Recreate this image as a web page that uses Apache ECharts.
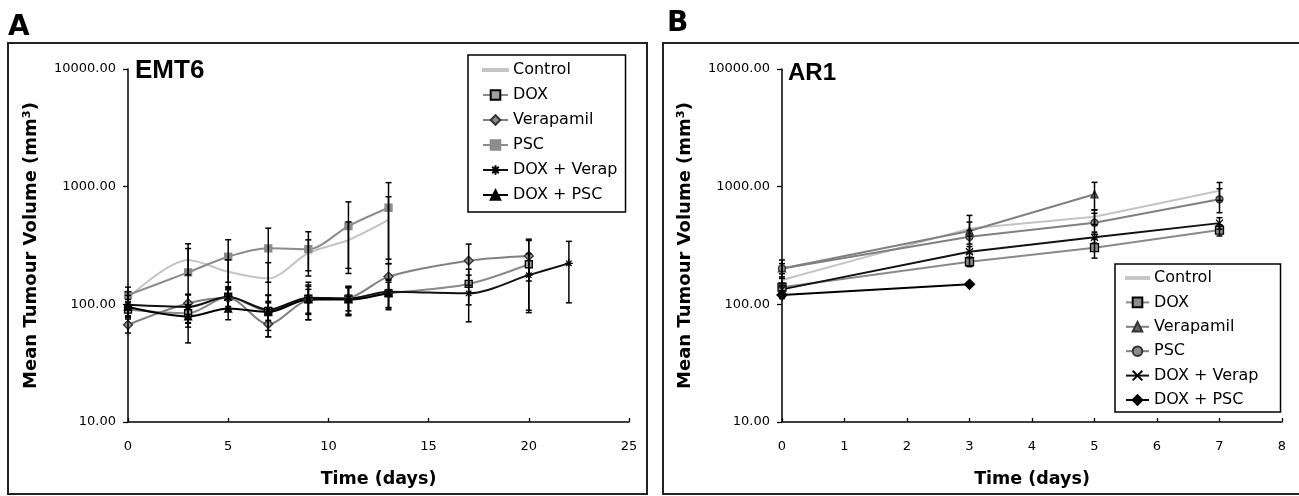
<!DOCTYPE html>
<html>
<head>
<meta charset="utf-8">
<script src="https://cdn.jsdelivr.net/npm/echarts@6/dist/echarts.min.js"></script>
<style>html,body{margin:0;padding:0;background:#fff;}#c{width:1299px;height:496px;}</style>
</head>
<body>
<div id="c"></div>
<script>
// ---------- Panel A (EMT6) ----------
const aDaysShort = [0, 3, 5, 7, 9, 11, 13];
const aDaysMid = [0, 3, 5, 7, 9, 11, 13, 17, 20];
const aDaysLong = [0, 3, 5, 7, 9, 11, 13, 17, 20, 22];
const aControl = [113, 238, 189, 166, 273, 352, 521];
const aControlSd = [15, 60, 50, 60, 80, 150, 300];
const aDox = [90, 84, 116, 88, 112, 112, 124, 149, 219];
const aDoxSd = [15, 15, 20, 15, 30, 30, 30, 50, 130];
const aVerap = [67, 102, 113, 68, 109, 113, 172, 235, 258];
const aVerapSd = [10, 20, 20, 15, 25, 25, 50, 90, 100];
const aPsc = [120, 187, 254, 299, 294, 463, 662];
const aPscSd = [20, 140, 100, 145, 120, 280, 420];
const aDoxVerap = [99, 95, 116, 90, 114, 112, 128, 124, 177, 223];
const aDoxVerapSd = [20, 25, 25, 30, 40, 30, 35, 53, 92, 120];
const aDoxPsc = [95, 79, 92, 86, 110, 110, 125];
const aDoxPscSd = [15, 15, 18, 33, 36, 30, 35];

// ---------- Panel B (AR1) ----------
const bDays = [0, 3, 5, 7];
const bDaysVerap = [0, 3, 5];
const bDaysDoxPsc = [0, 3];
const bControl = [161, 440, 556, 925];
const bControlSd = [10, 60, 80, 160];
const bDox = [140, 230, 303, 428];
const bDoxSd = [10, 21, 56, 47];
const bVerap = [202, 420, 861];
const bVerapSd = [20, 150, 227];
const bPsc = [202, 375, 494, 781];
const bPscSd = [36, 50, 100, 180];
const bDoxVerap = [134, 280, 371, 490];
const bDoxVerapSd = [10, 30, 40, 55];
const bDoxPsc = [120, 148];
const bDoxPscSd = [8, 5];

const seriesNames = ['Control', 'DOX', 'Verapamil', 'PSC', 'DOX + Verap', 'DOX + PSC'];
const yTicks = [10, 100, 1000, 10000];
const xTicksA = {min: 0, max: 25, interval: 5};
const xTicksB = {min: 0, max: 8, interval: 1};

const ASTER = 'path://M5,0L5,10M0,5L10,5M1.6,1.6L8.4,8.4M8.4,1.6L1.6,8.4';
const XMARK = 'path://M0,0L10,10M10,0L0,10';
const LINEICON = 'path://M0,0h25v2h-25z';

function pts(days, vals) { return days.map((d, i) => [d, vals[i]]); }
function errs(days, vals, sd) { return days.map((d, i) => [d, Math.max(vals[i] - sd[i], 10.5), vals[i] + sd[i]]); }

function lineSeries(name, idx, days, vals, color, symbol, symSize, fill, border, smooth) {
  return {
    name: name, type: 'line', xAxisIndex: idx, yAxisIndex: idx,
    data: pts(days, vals), smooth: smooth,
    showSymbol: symbol !== 'none', symbol: symbol, symbolSize: symSize,
    lineStyle: {color: color, width: 2},
    itemStyle: {color: fill, borderColor: border, borderWidth: 1.3},
    z: 3
  };
}

function errSeries(idx, list) {
  let data = [];
  list.forEach(l => { data = data.concat(l); });
  return {
    type: 'custom', xAxisIndex: idx, yAxisIndex: idx, z: 4,
    data: data, encode: {x: 0, y: [1, 2]},
    renderItem: function (params, api) {
      const x = api.value(0), lo = api.value(1), hi = api.value(2);
      const pH = api.coord([x, hi]), pL = api.coord([x, lo]);
      const st = {stroke: '#000', lineWidth: 1.5};
      return {type: 'group', children: [
        {type: 'line', shape: {x1: pH[0], y1: pH[1], x2: pL[0], y2: pL[1]}, style: st},
        {type: 'line', shape: {x1: pH[0] - 3, y1: pH[1], x2: pH[0] + 3, y2: pH[1]}, style: st},
        {type: 'line', shape: {x1: pL[0] - 3, y1: pL[1], x2: pL[0] + 3, y2: pL[1]}, style: st}
      ]};
    }
  };
}

const tickFont = {fontFamily: 'DejaVu Sans', fontSize: 13, color: '#000'};
const nameFont = {fontFamily: 'DejaVu Sans', fontWeight: 'bold', fontSize: 18, color: '#000'};

function xAxis(idx, t) {
  return {
    type: 'value', gridIndex: idx, min: t.min, max: t.max, interval: t.interval,
    name: 'Time (days)', nameLocation: 'middle', nameGap: 48,
    nameTextStyle: Object.assign({}, nameFont, {fontSize: 17.5}),
    axisLine: {show: true, onZero: false, lineStyle: {color: '#000', width: 1.5}},
    axisTick: {show: true, inside: true, length: 4, lineStyle: {color: '#000', width: 1.3}},
    axisLabel: Object.assign({margin: 18}, tickFont),
    splitLine: {show: false}
  };
}
function yAxis(idx) {
  return {
    type: 'log', gridIndex: idx, min: yTicks[0], max: yTicks[yTicks.length - 1], logBase: 10,
    name: 'Mean Tumour Volume (mm³)', nameLocation: 'middle', nameGap: 88,
    nameTextStyle: nameFont,
    axisLine: {show: true, lineStyle: {color: '#000', width: 1.5}},
    axisTick: {show: true, length: 5, lineStyle: {color: '#000', width: 1.3}},
    axisLabel: Object.assign({margin: 12, formatter: v => Number(v).toFixed(2)}, tickFont),
    splitLine: {show: false}
  };
}

const legendText = {fontFamily: 'DejaVu Sans', fontSize: 16, color: '#000', lineHeight: 16};

function legendData(prefix) {
  return seriesNames.map(n => n === 'Control'
    ? {name: prefix + n, icon: LINEICON, itemStyle: {color: '#c4c4c4'}}
    : {name: prefix + n});
}

const option = {
  animation: false,
  backgroundColor: '#fff',
  grid: [
    {left: 128, top: 69, width: 501, height: 353},
    {left: 782, top: 69, width: 500, height: 353}
  ],
  xAxis: [xAxis(0, xTicksA), xAxis(1, xTicksB)],
  yAxis: [yAxis(0), yAxis(1)],
  legend: [
    {
      data: legendData(''), orient: 'vertical', left: 468, top: 55,
      itemWidth: 25, itemHeight: 12, itemGap: 9,
      padding: [7, 8, 9, 14], borderColor: '#000', borderWidth: 1.5,
      textStyle: legendText, selectedMode: false
    },
    {
      data: legendData('B:'), orient: 'vertical', left: 1115, top: 264,
      itemWidth: 23, itemHeight: 12, itemGap: 8.4,
      padding: [6, 22, 4, 10], borderColor: '#000', borderWidth: 1.5,
      formatter: n => n.replace('B:', ''),
      textStyle: legendText, selectedMode: false
    }
  ],
  graphic: [
    {type: 'rect', shape: {x: 8, y: 43, width: 639, height: 451}, style: {fill: 'none', stroke: '#222', lineWidth: 2}},
    {type: 'rect', shape: {x: 663, y: 43, width: 640, height: 451}, style: {fill: 'none', stroke: '#222', lineWidth: 2}},
    {type: 'text', left: 8, top: 14, style: {text: 'A', font: 'bold 28px "DejaVu Sans"', fill: '#000'}},
    {type: 'text', left: 667, top: 10, style: {text: 'B', font: 'bold 28px "DejaVu Sans"', fill: '#000'}},
    {type: 'text', left: 135, top: 58, style: {text: 'EMT6', font: 'bold 26px "Liberation Sans"', fill: '#000'}},
    {type: 'text', left: 788, top: 61, style: {text: 'AR1', font: 'bold 24px "Liberation Sans"', fill: '#000'}}
  ],
  series: [
    lineSeries('Control', 0, aDaysShort, aControl, '#c4c4c4', 'none', 0, '#c4c4c4', '#c4c4c4', 0.3),
    lineSeries('DOX', 0, aDaysMid, aDox, '#8a8a8a', 'rect', 7, '#a0a0a0', '#000', 0.3),
    lineSeries('Verapamil', 0, aDaysMid, aVerap, '#808080', 'diamond', 9, '#8c8c8c', '#333', 0.3),
    lineSeries('PSC', 0, aDaysShort, aPsc, '#8c8c8c', 'rect', 7, '#8c8c8c', '#8c8c8c', 0.3),
    lineSeries('DOX + Verap', 0, aDaysLong, aDoxVerap, '#111', ASTER, 8, 'none', '#000', 0.3),
    lineSeries('DOX + PSC', 0, aDaysShort, aDoxPsc, '#000', 'triangle', 7, '#000', '#000', 0.3),
    errSeries(0, [
      errs(aDaysShort, aControl, aControlSd), errs(aDaysMid, aDox, aDoxSd), errs(aDaysMid, aVerap, aVerapSd),
      errs(aDaysShort, aPsc, aPscSd), errs(aDaysLong, aDoxVerap, aDoxVerapSd), errs(aDaysShort, aDoxPsc, aDoxPscSd)
    ]),
    lineSeries('B:Control', 1, bDays, bControl, '#c4c4c4', 'none', 0, '#c4c4c4', '#c4c4c4', false),
    lineSeries('B:DOX', 1, bDays, bDox, '#8a8a8a', 'rect', 8, '#8c8c8c', '#000', false),
    lineSeries('B:Verapamil', 1, bDaysVerap, bVerap, '#808080', 'triangle', 7, '#666', '#333', false),
    lineSeries('B:PSC', 1, bDays, bPsc, '#808080', 'circle', 7, '#8c8c8c', '#333', false),
    lineSeries('B:DOX + Verap', 1, bDays, bDoxVerap, '#111', XMARK, 7, 'none', '#000', false),
    lineSeries('B:DOX + PSC', 1, bDaysDoxPsc, bDoxPsc, '#000', 'diamond', 10, '#000', '#000', false),
    errSeries(1, [
      errs(bDays, bControl, bControlSd), errs(bDays, bDox, bDoxSd), errs(bDaysVerap, bVerap, bVerapSd),
      errs(bDays, bPsc, bPscSd), errs(bDays, bDoxVerap, bDoxVerapSd), errs(bDaysDoxPsc, bDoxPsc, bDoxPscSd)
    ])
  ]
};

const chart = echarts.init(document.getElementById('c'), null, {renderer: 'canvas'});
chart.setOption(option);
</script>
</body>
</html>
